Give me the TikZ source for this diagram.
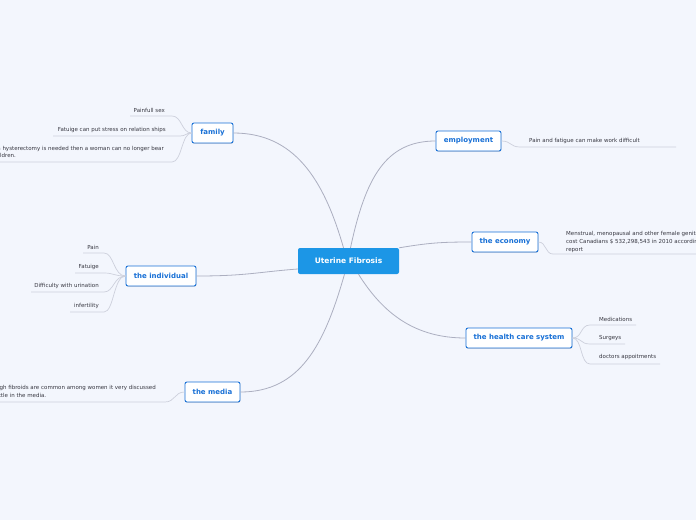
\documentclass[tikz,border=0pt]{standalone}
\usepackage{fontspec}
\setmainfont{DejaVu Sans}
\usetikzlibrary{shadows}
\definecolor{bg}{RGB}{243,246,253}
\definecolor{mainblue}{RGB}{28,150,230}
\definecolor{nodeblue}{RGB}{24,112,214}
\definecolor{branch}{RGB}{172,175,192}
\definecolor{leafline}{RGB}{205,208,220}
\definecolor{leaftext}{RGB}{55,55,65}
\tikzset{
  topic/.style={draw=nodeblue, line width=0.9pt, fill=white, rounded corners=2pt,
    font=\fontsize{7}{8}\selectfont\bfseries, text=nodeblue, minimum height=20pt,
    inner xsep=0pt, drop shadow={shadow xshift=0.4pt, shadow yshift=-0.8pt, opacity=0.25}},
  central/.style={fill=mainblue, rounded corners=2pt, font=\fontsize{7.5}{9}\selectfont\bfseries,
    text=white, minimum width=101pt, minimum height=26pt, inner sep=0pt},
  leaf/.style={font=\fontsize{5.5}{7.8}\selectfont, text=leaftext, inner sep=0pt},
  branchline/.style={draw=branch, line width=0.8pt},
  leafconn/.style={draw=leafline, line width=0.7pt}
}
\begin{document}
\begin{tikzpicture}[x=1pt,y=-1pt]
\fill[bg] (0,0) rectangle (696,520);
\useasboundingbox (0,0) rectangle (696,520);

% main topics
\node[central] (ctr) at (348.5,261) {Uterine Fibrosis};
\node[topic, minimum width=41pt] (family) at (212.5,133) {family};
\node[topic, minimum width=65pt] (employment) at (468.5,141) {employment};
\node[topic, minimum width=66pt] (economy) at (505,242) {the economy};
\node[topic, minimum width=106pt] (health) at (519,338) {the health care system};
\node[topic, minimum width=70pt] (individual) at (161,276) {the individual};
\node[topic, minimum width=55pt] (media) at (212.5,392) {the media};

% branches
\draw[branchline] ([xshift=-5pt]ctr.north) .. controls +(-20,-70) and +(60,0) .. (family.east);
\draw[branchline] ([xshift=2pt]ctr.north) .. controls +(15,-70) and +(-50,0) .. (employment.west);
\draw[branchline] (ctr.north east) .. controls +(30,-5) and +(-30,0) .. (economy.west);
\draw[branchline] ([xshift=10pt]ctr.south) .. controls +(25,40) and +(-50,0) .. (health.west);
\draw[branchline] ([yshift=-8pt]ctr.west) .. controls +(-40,3) and +(50,0) .. (individual.east);
\draw[branchline] ([xshift=-4pt]ctr.south) .. controls +(-20,70) and +(60,0) .. (media.east);

% family leaves
\node[leaf, anchor=east] (f1) at (165,110) {Painfull sex};
\node[leaf, anchor=east] (f2) at (166,130) {Fatuige can put stress on relation ships};
\node[leaf, anchor=east, align=left] (f3) at (164,152) {If a hysterectomy is needed then a woman can no longer bear\\children.};
\coordinate (f1a) at (130,116); \coordinate (f1b) at (172,116);
\coordinate (f2a) at (53,136);  \coordinate (f2b) at (180,136);
\coordinate (f3a) at (-5,162);  \coordinate (f3b) at (172,162);
\draw[leafconn] (family.west) .. controls +(-10,0) and +(10,0) .. (f1b) -- (f1a);
\draw[leafconn] (family.west) .. controls +(-6,0) and +(6,0) .. (f2b) -- (f2a);
\draw[leafconn] (family.west) .. controls +(-10,0) and +(10,0) .. (f3b) -- (f3a);

% individual leaves
\node[leaf, anchor=east] (i1) at (99,247) {Pain};
\node[leaf, anchor=east] (i2) at (99,267) {Fatuige};
\node[leaf, anchor=east] (i3) at (99,286) {Difficulty with urination};
\node[leaf, anchor=east] (i4) at (99,306) {infertility};
\coordinate (i1a) at (83,253); \coordinate (i1b) at (104,253);
\coordinate (i2a) at (75,273); \coordinate (i2b) at (104,273);
\coordinate (i3a) at (31,292); \coordinate (i3b) at (104,292);
\coordinate (i4a) at (70,312); \coordinate (i4b) at (104,312);
\foreach \n in {1,2,3,4}{
  \draw[leafconn] (individual.west) .. controls +(-12,0) and +(10,0) .. (i\n b) -- (i\n a);
}

% media leaf
\node[leaf, anchor=east, align=left] (m1) at (156,392) {Although fibroids are common among women it very discussed\\very little in the media.};
\coordinate (m1a) at (-5,402); \coordinate (m1b) at (165,402);
\draw[leafconn] (media.west) .. controls +(-10,0) and +(10,0) .. (m1b) -- (m1a);

% employment leaf
\node[leaf, anchor=west] (e1) at (529,141) {Pain and fatigue can make work difficult};
\coordinate (e1a) at (520,147); \coordinate (e1b) at (676,147);
\draw[leafconn] (employment.east) .. controls +(10,0) and +(-10,0) .. (e1a) -- (e1b);

% economy leaf
\node[leaf, anchor=west, align=left] (c1) at (566,242) {Menstrual, menopausal and other female genital conditions\\cost Canadians \$ 532,298,543 in 2010 according to the\\report};
\coordinate (c1a) at (553,254); \coordinate (c1b) at (700,254);
\draw[leafconn] (economy.east) .. controls +(8,0) and +(-8,0) .. (c1a) -- (c1b);

% health leaves
\node[leaf, anchor=west] (h1) at (599,319) {Medications};
\node[leaf, anchor=west] (h2) at (599,338) {Surgeys};
\node[leaf, anchor=west] (h3) at (599,357) {doctors appoitments};
\coordinate (h1a) at (590,325); \coordinate (h1b) at (636,325);
\coordinate (h2a) at (590,344); \coordinate (h2b) at (625,344);
\coordinate (h3a) at (590,364); \coordinate (h3b) at (660,364);
\foreach \n in {1,2,3}{
  \draw[leafconn] (health.east) .. controls +(10,0) and +(-10,0) .. (h\n a) -- (h\n b);
}
\end{tikzpicture}
\end{document}
